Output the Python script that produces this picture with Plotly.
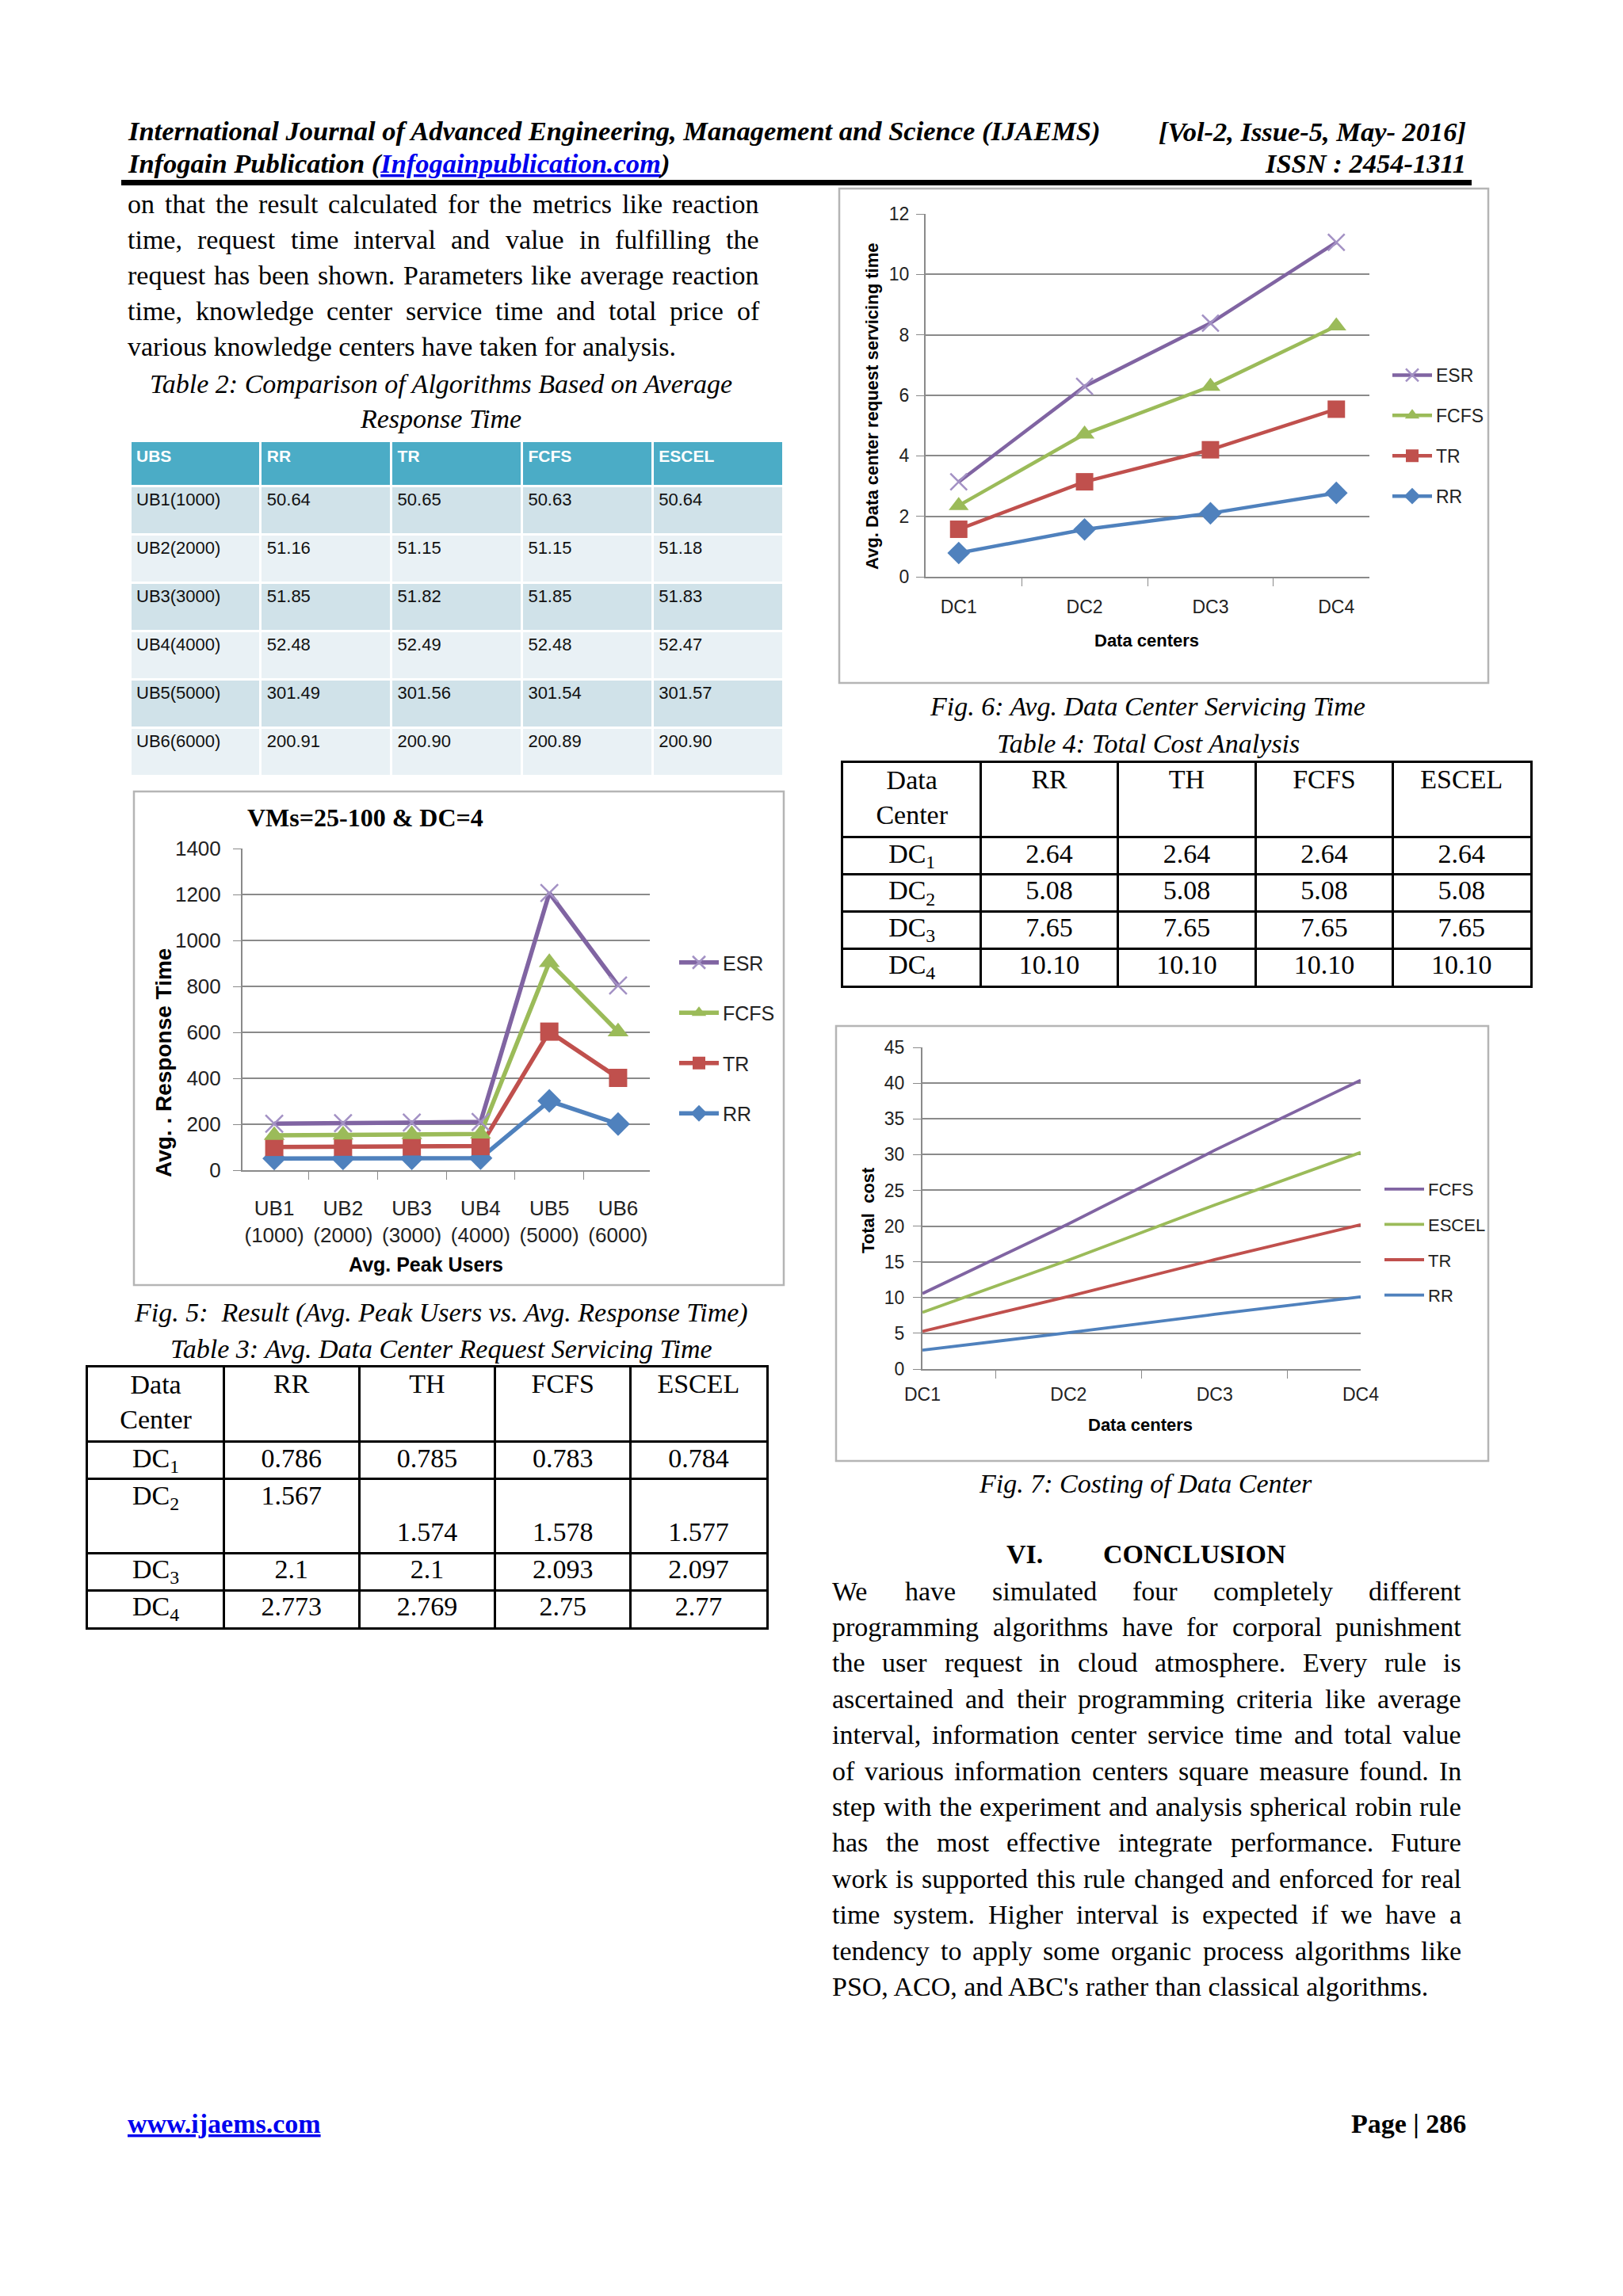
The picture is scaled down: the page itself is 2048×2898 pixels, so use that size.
import plotly.graph_objects as go

W, H = 2048, 2898

# ---------------- data ----------------
ub_names = ["UB1(1000)", "UB2(2000)", "UB3(3000)", "UB4(4000)", "UB5(5000)", "UB6(6000)"]
ub_ticks = ["UB1<br>(1000)", "UB2<br>(2000)", "UB3<br>(3000)", "UB4<br>(4000)", "UB5<br>(5000)", "UB6<br>(6000)"]
t2_rr = [50.64, 51.16, 51.85, 52.48, 301.49, 200.91]
t2_tr = [50.65, 51.15, 51.82, 52.49, 301.56, 200.90]
t2_fcfs = [50.63, 51.15, 51.85, 52.48, 301.54, 200.89]
t2_escel = [50.64, 51.18, 51.83, 52.47, 301.57, 200.90]

dc_names = ["DC1", "DC2", "DC3", "DC4"]
dc_sub = ["DC<sub>1</sub>", "DC<sub>2</sub>", "DC<sub>3</sub>", "DC<sub>4</sub>"]
t3_rr = [0.786, 1.567, 2.1, 2.773]
t3_th = [0.785, 1.574, 2.1, 2.769]
t3_fcfs = [0.783, 1.578, 2.093, 2.75]
t3_escel = [0.784, 1.577, 2.097, 2.77]

t4_rr = [2.64, 5.08, 7.65, 10.10]
t4_th = [2.64, 5.08, 7.65, 10.10]
t4_fcfs = [2.64, 5.08, 7.65, 10.10]
t4_escel = [2.64, 5.08, 7.65, 10.10]

tbl_headers = ["Data<br>Center", "RR", "TH", "FCFS", "ESCEL"]

BLUE, RED, GREEN, PURPLE = "#4F81BD", "#C0504D", "#9BBB59", "#8064A2"
XPURPLE = "#A391C4"
SERIF = "Liberation Serif, Times New Roman, serif"
NARROW = "Liberation Sans Narrow, Arial Narrow, Liberation Sans, sans-serif"
SANS = "Liberation Sans, Arial, sans-serif"


def px(x):
    return x / W


def py(y):
    return 1 - y / H


fig = go.Figure()

# ---------------- Fig 5 ----------------
for rank, (name, vals, col, sym) in enumerate([("RR", t2_rr, BLUE, "diamond"), ("TR", t2_tr, RED, "square"),
                                               ("FCFS", t2_fcfs, GREEN, "triangle-up"),
                                               ("ESR", t2_escel, PURPLE, "x-thin")]):
    mk = dict(symbol=sym, size=23, color=col)
    if sym == "x-thin":
        mk = dict(symbol=sym, size=22, line=dict(color=XPURPLE, width=2.5))
    fig.add_trace(go.Scatter(x=ub_ticks, y=vals, name=name, stackgroup="s5", fill="none",
                             mode="lines+markers", line=dict(color=col, width=5.5), marker=mk,
                             xaxis="x", yaxis="y", legend="legend", legendgroup=name + "5",
                             legendrank=10 - rank, hoverinfo="skip"))

# ---------------- Fig 6 ----------------
for rank, (name, vals, col, sym) in enumerate([("RR", t3_rr, BLUE, "diamond"), ("TR", t3_th, RED, "square"),
                                               ("FCFS", t3_fcfs, GREEN, "triangle-up"),
                                               ("ESR", t3_escel, PURPLE, "x-thin")]):
    mk = dict(symbol=sym, size=22, color=col)
    if sym == "x-thin":
        mk = dict(symbol=sym, size=21, line=dict(color=XPURPLE, width=2.5))
    fig.add_trace(go.Scatter(x=dc_names, y=vals, name=name, stackgroup="s6", fill="none",
                             mode="lines+markers", line=dict(color=col, width=4.5), marker=mk,
                             xaxis="x2", yaxis="y2", legend="legend2", legendgroup=name + "6",
                             legendrank=10 - rank, hoverinfo="skip"))

# ---------------- Fig 7 ----------------
for rank, (name, vals, col) in enumerate([("RR", t4_rr, BLUE), ("TR", t4_th, RED),
                                          ("ESCEL", t4_escel, GREEN), ("FCFS", t4_fcfs, PURPLE)]):
    fig.add_trace(go.Scatter(x=dc_names, y=vals, name=name, stackgroup="s7", fill="none",
                             mode="lines", line=dict(color=col, width=3.8),
                             xaxis="x3", yaxis="y3", legend="legend3", legendgroup=name + "7",
                             legendrank=10 - rank, hoverinfo="skip"))

# ---------------- Table 2 (image-style table) ----------------
band = ["#D0E2E9", "#E9F1F5"] * 3
fig.add_trace(go.Table(
    domain=dict(x=[px(164), px(988)], y=[py(990), py(556)]),
    columnwidth=[1, 1, 1, 1, 1],
    header=dict(values=["<b>UBS</b>", "<b>RR</b>", "<b>TR</b>", "<b>FCFS</b>", "<b>ESCEL</b>"],
                fill_color="#4BACC6", line=dict(color="white", width=3), align="left", height=57,
                font=dict(family=NARROW, size=21, color="white")),
    cells=dict(values=[ub_names,
                       [f"{v:.2f}" for v in t2_rr], [f"{v:.2f}" for v in t2_tr],
                       [f"{v:.2f}" for v in t2_fcfs], [f"{v:.2f}" for v in t2_escel]],
               fill_color=[band] * 5, line=dict(color="white", width=3), align="left", height=61,
               font=dict(family=SANS, size=22, color="#111111"))))


# ---------------- Tables 3 & 4 as text on a cell grid ----------------
def grid_table(cols, row_bounds, line_of, fmt, xa, ya):
    xs, ys, ts = [], [], []
    for j, h in enumerate(tbl_headers):
        xs.append(j + 0.5)
        ys.append(1.0 if "<br>" in h else 0.5)
        ts.append(h)
    for i, d in enumerate(dc_sub):
        top = row_bounds[i]
        xs.append(0.5)
        ys.append(top + 0.5)
        ts.append(d)
        for j, vals in enumerate(cols):
            xs.append(j + 1.5)
            ys.append(top + 0.5 + line_of(i, j))
            ts.append(fmt(vals[i]))
    fig.add_trace(go.Scatter(x=xs, y=ys, text=ts, mode="text", textposition="middle center",
                             textfont=dict(family=SERIF, size=34, color="black"),
                             xaxis=xa, yaxis=ya, showlegend=False, hoverinfo="skip"))


t3_bounds = [2, 3, 5, 6, 7]
t4_bounds = [2, 3, 4, 5, 6]
grid_table([t3_rr, t3_th, t3_fcfs, t3_escel], t3_bounds,
           lambda i, j: 1 if (i == 1 and j > 0) else 0, lambda v: str(v), "x4", "y4")
grid_table([t4_rr, t4_th, t4_fcfs, t4_escel], t4_bounds,
           lambda i, j: 0, lambda v: f"{v:.2f}", "x5", "y5")

# ---------------- axes ----------------
GRID = "#8A8A8A"


def yax(dom, anchor, rng, dt, fs, stand):
    return dict(domain=dom, anchor=anchor, range=rng, dtick=dt, showgrid=True, gridcolor=GRID, gridwidth=2,
                showline=True, linecolor=GRID, linewidth=2, ticks="outside", ticklen=10,
                tickcolor=GRID, zeroline=False, fixedrange=True, automargin=False,
                ticklabelstandoff=stand,
                tickfont=dict(family=NARROW, size=fs, color="#222222"))


def xax(dom, anchor, fs, stand):
    return dict(domain=dom, anchor=anchor, type="category", showgrid=False, showline=True,
                linecolor=GRID, linewidth=2, ticks="outside", ticklen=10, tickcolor=GRID,
                tickson="boundaries", ticklabelstandoff=stand, fixedrange=True, automargin=False,
                tickfont=dict(family=NARROW, size=fs, color="#222222"))


def tax(dom, anchor, rng, vals):
    return dict(domain=dom, anchor=anchor, range=rng, tickvals=vals, showgrid=True, gridcolor="black",
                gridwidth=2.5, showline=True, mirror=True, linecolor="black", linewidth=2.5,
                showticklabels=False, ticks="", zeroline=False, fixedrange=True, automargin=False)


LEG = dict(xanchor="left", yanchor="top", bgcolor="rgba(0,0,0,0)", traceorder="grouped",
           itemwidth=50)

annotations = []


def text(x, y, s, size=34, family=SERIF, xanchor="left", color="black", angle=0):
    annotations.append(dict(x=px(x), y=py(y), xref="paper", yref="paper", text=s, showarrow=False,
                            xanchor=xanchor, yanchor="middle", textangle=angle,
                            font=dict(family=family, size=size, color=color)))


# Times metrics for justification
TW = {' ': 250, 'a': 444, 'b': 500, 'c': 444, 'd': 500, 'e': 444, 'f': 333, 'g': 500, 'h': 500,
      'i': 278, 'j': 278, 'k': 500, 'l': 278, 'm': 778, 'n': 500, 'o': 500, 'p': 500, 'q': 500,
      'r': 333, 's': 389, 't': 278, 'u': 500, 'v': 500, 'w': 722, 'x': 500, 'y': 500, 'z': 444,
      'A': 722, 'B': 667, 'C': 667, 'D': 722, 'E': 611, 'F': 556, 'G': 722, 'H': 722, 'I': 333,
      'J': 389, 'K': 722, 'L': 611, 'M': 889, 'N': 722, 'O': 722, 'P': 556, 'Q': 722, 'R': 667,
      'S': 556, 'T': 611, 'U': 722, 'V': 722, 'W': 944, 'X': 722, 'Y': 722, 'Z': 611,
      '.': 250, ',': 250, "'": 180, '(': 333, ')': 333, '-': 333, ':': 278}


def wwidth(s, size):
    return sum(TW.get(c, 500) for c in s) * size / 1000.0


def justify(line, xl, xr, y, size=34, last=False):
    if last:
        text(xl, y, line, size)
        return
    words = line.split()
    total = sum(wwidth(w, size) for w in words)
    gap = (xr - xl - total) / (len(words) - 1)
    x = xl
    for w in words:
        text(x, y, w, size)
        x += wwidth(w, size) + gap


# header
text(159, 166, "<b><i>International Journal of Advanced Engineering, Management and Science (IJAEMS)</i></b>",
     size=34.5)
text(1852, 166, "<b><i>[Vol-2, Issue-5, May- 2016]</i></b>", size=34.5, xanchor="right")
text(159, 206, "<b><i>Infogain Publication (<span style='color:#0000EE;text-decoration:underline'>"
               "Infogainpublication.com</span>)</i></b>", size=34.5)
text(1852, 206, "<b><i>ISSN : 2454-1311</i></b>", size=34.5, xanchor="right")

left_lines = ["on that the result calculated for the metrics like reaction",
              "time, request time interval and value in fulfilling the",
              "request has been shown. Parameters like average reaction",
              "time, knowledge center service time and total price of",
              "various knowledge centers have taken for analysis."]
for i, ln in enumerate(left_lines):
    justify(ln, 159, 956, 257 + i * 45.2, last=(i == len(left_lines) - 1))

concl = ["We have simulated four completely different",
         "programming algorithms have for corporal punishment",
         "the user request in cloud atmosphere. Every rule is",
         "ascertained and their programming criteria like average",
         "interval, information center service time and total value",
         "of various information centers square measure found. In",
         "step with the experiment and analysis spherical robin rule",
         "has the most effective integrate performance. Future",
         "work is supported this rule changed and enforced for real",
         "time system. Higher interval is expected if we have a",
         "tendency to apply some organic process algorithms like",
         "PSO, ACO, and ABC's rather than classical algorithms."]
for i, ln in enumerate(concl):
    justify(ln, 1048, 1842, 2008 + i * 45.4, last=(i == len(concl) - 1))

text(1268, 1962, "<b>VI.</b>")
text(1390, 1962, "<b>CONCLUSION</b>")

# captions
text(556, 484, "<i>Table 2: Comparison of Algorithms Based on Average</i>", xanchor="center")
text(556, 528, "<i>Response Time</i>", xanchor="center")
text(556, 1657, "<i>Fig. 5:  Result (Avg. Peak Users vs. Avg. Response Time)</i>", xanchor="center")
text(557, 1702, "<i>Table 3: Avg. Data Center Request Servicing Time</i>", xanchor="center")
text(1448, 892, "<i>Fig. 6: Avg. Data Center Servicing Time</i>", xanchor="center")
text(1449, 938, "<i>Table 4: Total Cost Analysis</i>", xanchor="center")
text(1445, 1872, "<i>Fig. 7: Costing of Data Center</i>", xanchor="center")

# footer
text(159, 2680, "<b><span style='color:#0000EE;text-decoration:underline'>www.ijaems.com</span></b>")
text(1852, 2680, "<b>Page | 286</b>", xanchor="right")

# chart labels
text(461, 1032, "<b>VMs=25-100 &amp; DC=4</b>", size=32, xanchor="center")
text(206, 1342, "<b>Avg. . Response Time</b>", size=28, family=SANS, xanchor="center", angle=-90)
text(537, 1596, "<b>Avg. Peak Users</b>", size=25, family=NARROW, xanchor="center")
text(1100, 513, "<b>Avg. Data center request servicing time</b>", size=22, family=SANS,
     xanchor="center", angle=-90)
text(1447, 808, "<b>Data centers</b>", size=22, family=NARROW, xanchor="center")
text(1096, 1528, "<b>Total&nbsp; cost</b>", size=22, family=SANS, xanchor="center", angle=-90)
text(1439, 1798, "<b>Data centers</b>", size=22, family=NARROW, xanchor="center")

shapes = [
    dict(type="rect", xref="paper", yref="paper", x0=px(153), x1=px(1857), y0=py(234), y1=py(227),
         fillcolor="black", line=dict(width=0)),
    dict(type="rect", xref="paper", yref="paper", x0=px(169), x1=px(989), y0=py(1622), y1=py(999),
         line=dict(color="#B5B5B5", width=2.5)),
    dict(type="rect", xref="paper", yref="paper", x0=px(1059), x1=px(1878), y0=py(862), y1=py(238),
         line=dict(color="#B5B5B5", width=2.5)),
    dict(type="rect", xref="paper", yref="paper", x0=px(1055), x1=px(1878), y0=py(1844), y1=py(1295),
         line=dict(color="#B5B5B5", width=2.5)),
]

fig.update_layout(
    template="none",
    width=W, height=H, margin=dict(l=0, r=0, t=0, b=0, pad=0, autoexpand=False),
    paper_bgcolor="white", plot_bgcolor="white", showlegend=True,
    xaxis=xax([px(306), px(820)], "y", 26, 24),
    yaxis=yax([py(1477), py(1071)], "x", [0, 1400], 200, 26, 10),
    xaxis2=xax([px(1168), px(1728)], "y2", 23, 16),
    yaxis2=yax([py(728), py(270)], "x2", [0, 12], 2, 23, 4),
    xaxis3=xax([px(1164), px(1717)], "y3", 23, 10),
    yaxis3=yax([py(1728), py(1322)], "x3", [0, 45], 5, 23, 6),
    xaxis4=tax([px(111), px(967)], "y4", [0, 5], [0, 1, 2, 3, 4, 5]),
    yaxis4=tax([py(2054), py(1726)], "x4", [7, 0], [0] + t3_bounds),
    xaxis5=tax([px(1064), px(1931)], "y5", [0, 5], [0, 1, 2, 3, 4, 5]),
    yaxis5=tax([py(1244), py(963)], "x5", [6, 0], [0] + t4_bounds),
    legend=dict(LEG, x=px(852), y=py(1192), tracegroupgap=28,
                font=dict(family=NARROW, size=25, color="#222222")),
    legend2=dict(LEG, x=px(1752), y=py(452), tracegroupgap=18,
                 font=dict(family=NARROW, size=23, color="#222222")),
    legend3=dict(LEG, x=px(1742), y=py(1480), tracegroupgap=13,
                 font=dict(family=NARROW, size=22, color="#222222")),
    annotations=annotations, shapes=shapes,
)

fig.write_html("out.html", config={"displayModeBar": False},
               post_script="document.body.style.margin='0';")
